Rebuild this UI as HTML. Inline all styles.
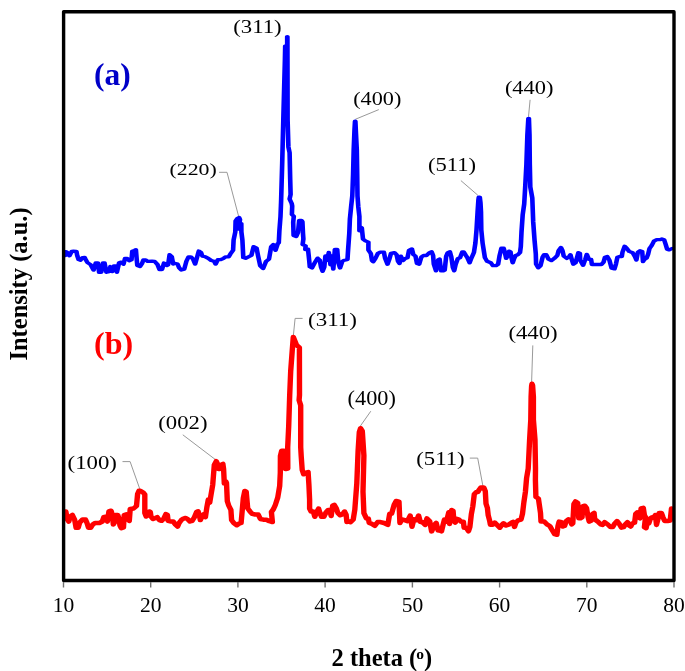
<!DOCTYPE html>
<html><head><meta charset="utf-8"><title>XRD</title>
<style>html,body{margin:0;padding:0;background:#fff;}svg{display:block;will-change:transform;}</style></head>
<body><svg width="685" height="671" viewBox="0 0 685 671">
<rect x="0" y="0" width="685" height="671" fill="#fff"/>

<polyline points="219.10,172.3 227.00,172.3 238.80,217.0" fill="none" stroke="#999" stroke-width="1.0"/>
<polyline points="378.80,109.6 355.30,119.3" fill="none" stroke="#999" stroke-width="1.0"/>
<polyline points="460.90,180.6 477.80,195.2" fill="none" stroke="#999" stroke-width="1.0"/>
<polyline points="530.10,99.8 528.50,116.7" fill="none" stroke="#999" stroke-width="1.0"/>
<polyline points="302.60,318.4 295.10,318.4 293.10,338.1" fill="none" stroke="#999" stroke-width="1.0"/>
<polyline points="532.80,345.4 531.60,382.3" fill="none" stroke="#999" stroke-width="1.0"/>
<polyline points="370.80,411.2 360.00,426.5" fill="none" stroke="#999" stroke-width="1.0"/>
<polyline points="469.80,458.1 477.70,458.1 482.90,486.0" fill="none" stroke="#999" stroke-width="1.0"/>
<polyline points="182.80,434.8 215.70,459.8" fill="none" stroke="#999" stroke-width="1.0"/>
<polyline points="122.50,461.6 130.10,461.6 140.00,489.6" fill="none" stroke="#999" stroke-width="1.0"/>
<polyline transform="scale(1.4,1)" points="46.57,255.5 47.00,251.6 48.21,252.5 49.57,255.8 51.29,251.4 52.50,251.2 54.57,251.3 55.14,255.5 56.14,259.6 57.50,260.3 58.93,257.6 60.43,257.4 61.43,260.2 62.50,262.6 64.71,264.6 66.86,270.1 68.43,262.8 70.00,262.8 70.79,272.3 72.29,272.3 73.64,262.8 74.64,262.8 76.00,272.3 77.79,271.6 78.86,266.5 80.21,271.6 81.43,265.8 82.50,265.8 83.50,272.3 85.07,262.8 86.64,262.1 88.21,264.3 89.29,258.5 90.86,258.5 92.36,260.7 93.93,259.9 94.50,251.2 96.07,250.4 97.07,249.7 97.57,258.0 98.07,265.5 100.00,266.5 101.43,263.5 102.43,260.0 104.07,260.0 105.43,261.4 108.57,261.1 110.43,261.4 112.50,264.5 113.93,269.5 115.71,269.5 117.14,263.0 119.07,265.6 120.07,264.9 121.14,254.6 122.71,256.8 123.71,264.1 125.29,263.4 126.86,264.1 127.93,267.8 129.50,270.0 131.57,269.2 133.14,261.2 134.71,256.8 136.29,256.8 137.86,259.0 139.36,264.1 140.43,259.0 142.00,251.0 143.57,252.4 144.57,256.1 146.71,256.8 148.79,258.3 150.86,260.5 152.93,261.2 154.00,264.1 155.57,259.7 157.64,259.7 159.71,258.3 161.29,256.8 163.36,256.8 164.93,253.2 166.50,250.3 166.86,240.0 168.07,232.0 168.29,221.0 169.50,218.5 170.79,217.5 171.43,219.5 170.43,229.0 171.00,229.0 172.36,223.5 172.43,232.0 173.14,240.0 173.79,257.6 175.36,258.3 177.43,256.8 179.57,255.4 181.14,246.7 183.29,248.2 184.29,255.5 185.86,265.7 187.93,268.6 190.07,261.3 192.14,259.1 193.71,246.7 195.29,244.5 196.79,250.4 198.36,243.8 199.14,242.7 199.57,230.8 200.36,216.5 200.79,201.0 201.57,163.3 202.36,120.0 203.50,60.0 203.71,46.0 205.14,45.5 205.14,36.6 205.29,36.6 205.43,120.0 206.00,146.9 206.86,152.8 207.29,179.7 207.57,194.6 206.86,199.1 208.36,203.6 208.71,206.0 208.50,214.5 209.86,216.2 209.43,222.3 209.71,235.5 211.57,236.5 212.86,232.4 213.71,220.3 215.29,220.3 216.00,221.5 216.43,233.5 216.71,239.1 216.14,244.5 218.29,245.8 218.07,249.5 220.00,249.2 220.86,260.3 221.29,266.8 222.86,268.0 224.86,262.6 226.86,258.1 228.43,260.3 229.29,267.0 230.43,271.3 231.64,267.0 232.43,256.0 233.64,260.3 234.86,252.5 236.07,264.8 236.86,256.0 238.07,269.2 239.21,249.4 240.86,249.4 241.64,262.6 242.86,268.0 244.43,261.5 245.36,260.5 246.93,260.0 248.21,259.4 248.64,249.9 249.50,233.2 249.93,218.8 250.79,206.9 251.64,196.0 252.21,174.0 252.64,150.0 253.21,130.0 253.57,121.2 253.86,121.2 254.14,130.0 254.86,150.0 255.14,174.0 255.36,196.0 255.93,206.9 256.71,216.5 256.71,230.8 257.57,227.2 258.43,227.8 259.29,239.1 261.00,240.9 263.14,242.1 263.14,249.9 264.86,253.4 265.71,260.6 266.57,261.8 268.21,258.2 269.93,253.4 271.64,252.2 274.21,252.2 275.07,258.2 276.79,264.2 278.07,259.4 279.29,253.4 281.71,252.6 283.29,254.7 284.29,261.3 285.36,263.5 286.36,256.2 287.93,260.6 289.50,258.4 291.07,257.7 292.14,250.4 294.21,248.9 295.29,254.7 296.79,256.2 297.86,263.5 299.43,264.2 301.00,256.9 302.57,255.5 304.64,255.5 306.71,252.6 308.29,251.8 309.36,255.5 309.86,264.2 311.43,270.8 313.00,259.9 314.00,259.1 315.07,270.8 316.64,270.8 317.64,270.1 318.71,256.2 319.79,252.6 321.36,251.8 322.36,256.9 323.43,267.2 324.43,270.8 325.50,264.2 327.07,258.4 328.64,257.7 330.21,251.8 331.21,251.8 332.79,255.5 333.86,257.7 335.43,262.8 336.43,259.1 338.50,252.6 339.57,243.0 340.36,230.0 341.14,212.0 341.71,200.0 342.00,197.2 342.71,197.2 343.21,203.0 343.57,212.0 343.79,230.0 344.71,243.1 345.29,248.2 346.36,257.7 347.93,261.3 350.57,262.8 352.14,265.7 354.21,265.7 355.79,264.2 356.86,255.5 358.14,248.2 359.79,248.2 360.50,251.8 361.57,258.4 362.57,255.5 363.64,251.1 364.64,251.8 365.21,256.9 366.21,262.8 367.29,258.4 368.36,255.5 369.86,254.7 371.43,252.6 372.00,246.7 372.50,232.1 373.36,214.6 374.43,204.0 375.14,187.0 376.00,164.6 376.71,134.8 377.29,121.0 377.43,118.3 377.79,118.3 378.21,134.8 378.43,164.6 378.79,187.0 380.21,198.0 380.86,221.9 381.86,240.9 382.71,254.0 382.93,264.2 384.50,267.9 386.07,265.7 387.64,256.9 388.64,254.7 390.21,254.7 391.79,259.1 393.86,260.6 395.93,258.4 398.07,255.5 399.07,250.4 400.64,247.4 401.71,250.4 402.71,256.2 404.86,258.4 406.36,256.9 407.43,254.7 408.50,259.9 409.50,264.2 411.07,262.8 412.14,257.7 413.14,252.6 414.21,253.3 414.43,260.1 416.50,265.3 418.07,259.4 419.14,254.3 420.71,259.4 422.21,259.4 422.79,264.5 425.36,264.5 429.57,264.5 431.07,262.3 432.14,257.2 433.71,256.5 435.29,260.1 436.86,268.2 438.93,268.9 440.00,263.8 441.00,257.2 442.57,256.5 444.14,256.5 444.64,252.1 446.21,246.3 447.79,248.5 449.36,251.4 451.93,252.8 453.50,256.5 454.57,260.1 455.64,252.1 457.14,250.7 458.71,251.4 459.29,261.6 460.29,259.4 461.86,258.0 462.93,254.3 463.93,248.5 465.50,245.5 467.07,241.2 469.14,239.7 471.29,239.7 472.79,239.0 474.36,239.7 475.43,244.1 476.50,249.2 478.00,249.9 480.00,248.5" fill="none" stroke="#0000ff" stroke-width="3.3" stroke-linejoin="round" stroke-linecap="round"/>
<polyline transform="scale(1.2,1)" points="54.83,511.4 56.08,519.4 57.33,521.6 58.50,516.5 60.33,515.0 62.17,519.5 63.42,527.8 65.17,527.8 66.42,522.5 68.83,519.5 71.25,519.5 72.50,523.0 73.75,527.8 75.58,527.8 77.33,524.5 79.17,523.0 82.83,523.0 85.25,521.5 86.50,517.2 88.33,516.5 89.50,521.6 90.75,511.4 92.58,510.7 93.83,515.8 94.42,524.5 95.58,522.3 96.25,515.0 98.08,515.0 99.25,518.7 99.92,525.3 101.08,528.2 102.92,527.4 103.50,515.0 105.33,514.3 106.58,519.4 107.75,520.9 108.50,509.0 111.25,508.5 113.75,506.0 114.67,494.0 115.83,490.8 116.92,490.8 119.33,492.5 120.67,494.5 120.67,513.0 121.83,516.5 123.33,515.0 124.42,511.5 125.25,512.0 125.83,516.5 127.50,519.0 129.58,518.0 131.00,517.2 132.83,520.1 134.67,520.8 136.50,518.6 138.25,514.2 139.50,515.0 140.08,520.8 142.58,521.5 144.33,521.5 146.17,524.5 148.00,526.6 149.25,523.0 151.08,520.1 152.92,518.6 154.75,517.9 156.50,519.3 158.33,521.5 160.17,520.8 162.00,517.2 163.83,512.0 165.08,511.3 166.25,515.7 166.92,520.1 168.67,515.7 169.92,514.2 171.17,517.2 172.33,507.7 173.58,499.6 174.75,502.6 176.00,493.8 177.25,485.0 177.83,476.3 178.58,465.0 180.25,461.2 181.50,464.6 182.08,469.0 183.33,469.0 184.50,464.6 185.75,463.9 186.33,469.0 186.92,483.6 188.17,481.4 188.75,482.8 189.42,501.1 190.58,505.5 192.42,509.9 193.00,520.1 194.83,523.0 197.33,525.2 199.08,523.7 200.92,523.0 201.58,514.2 202.75,498.2 204.00,490.9 205.17,491.6 206.42,508.4 208.25,511.3 210.17,513.8 212.67,514.5 215.17,514.5 217.00,519.0 219.50,519.7 222.00,519.7 224.50,521.2 227.00,522.0 226.17,512.0 227.92,509.0 229.42,505.0 231.42,497.7 233.08,485.9 233.58,472.8 233.67,456.0 234.75,450.8 236.75,450.8 237.92,469.0 239.83,468.5 239.75,447.2 240.58,426.3 241.42,395.0 242.25,371.0 243.50,351.0 244.42,337.0 247.08,345.0 249.50,347.5 249.58,395.0 249.25,400.2 250.58,405.4 250.58,447.2 251.00,456.0 251.83,469.8 253.08,474.3 254.92,472.8 256.75,472.0 257.42,484.7 258.00,499.6 258.00,508.6 259.25,511.5 261.08,511.5 262.33,516.8 263.58,513.0 265.50,508.6 266.67,513.0 267.92,516.8 269.83,516.8 271.67,512.3 273.50,510.0 274.75,510.0 276.00,516.0 277.25,505.6 278.50,504.8 280.33,508.6 281.58,513.0 283.50,515.3 285.33,514.5 287.17,511.5 288.42,514.5 289.08,522.0 290.92,521.2 292.17,522.1 294.33,519.6 295.67,509.8 297.33,483.6 298.42,450.8 299.42,432.0 300.50,428.2 301.92,431.0 303.25,455.7 302.50,491.8 303.25,513.1 305.33,518.4 306.92,518.4 307.67,523.0 310.00,523.9 312.33,525.8 314.67,522.1 317.00,522.1 320.08,523.0 323.17,524.9 324.75,513.7 326.33,513.7 328.58,504.4 330.17,501.0 332.50,501.6 333.25,523.0 334.83,519.3 337.17,520.2 339.50,521.1 341.83,515.6 343.33,526.7 344.92,519.3 347.25,520.2 348.83,515.6 350.33,522.1 351.92,522.1 354.25,524.9 355.75,518.4 358.08,521.1 359.67,531.4 362.00,524.9 363.50,523.0 365.08,530.5 366.67,530.5 367.92,531.3 369.08,525.5 370.33,519.6 371.50,521.8 372.75,518.2 374.00,512.3 374.58,524.0 376.42,510.1 377.58,510.9 378.25,521.1 379.42,522.6 380.67,518.9 382.50,519.6 384.33,521.8 386.17,521.8 386.75,527.7 388.58,527.7 390.42,531.3 391.58,526.9 392.83,513.8 394.00,506.5 395.25,494.1 397.08,491.9 398.33,491.9 398.92,490.4 400.75,487.5 403.17,487.5 404.42,491.2 405.00,503.6 406.17,508.0 406.83,515.3 408.00,520.4 408.67,524.7 410.50,524.7 412.25,522.6 414.08,524.7 416.58,527.7 418.33,524.7 419.58,523.3 421.42,525.5 423.83,524.7 426.25,522.6 427.50,521.8 428.75,526.9 429.92,522.6 431.75,520.4 434.17,519.6 435.42,513.8 436.58,502.1 437.83,492.0 438.83,478.0 440.17,468.6 441.33,440.0 442.33,419.7 442.58,397.0 443.00,386.0 443.33,383.8 443.83,385.5 444.50,397.0 444.50,419.7 445.83,440.0 446.25,468.6 446.17,480.0 446.58,497.0 448.67,498.5 450.42,512.9 450.83,521.6 453.58,521.6 455.83,524.4 458.17,526.0 460.00,529.8 462.25,534.2 464.08,534.8 465.00,526.0 465.92,521.6 467.75,522.2 469.08,526.5 470.50,526.0 471.83,521.1 473.67,519.4 475.00,520.0 476.42,524.4 477.33,523.3 478.25,504.1 479.58,501.4 481.42,503.0 482.33,518.3 483.75,518.3 485.08,517.2 485.50,506.3 487.33,505.7 488.75,507.9 490.08,517.2 491.00,521.6 492.83,520.5 493.75,514.0 495.08,512.9 495.58,518.9 496.92,520.5 498.75,522.2 500.58,524.4 502.00,524.9 503.83,522.2 506.42,524.4 508.75,527.1 510.58,527.1 512.42,523.3 514.17,521.1 516.00,523.8 517.83,527.6 519.67,527.1 521.08,524.4 522.92,522.2 524.25,525.5 525.58,526.5 527.00,523.3 528.83,522.7 529.75,514.0 531.08,512.3 532.00,517.2 533.33,518.3 534.25,508.5 536.08,507.9 537.00,515.0 537.92,517.2 537.00,527.1 538.42,528.2 539.33,522.7 540.67,523.3 542.08,518.3 543.42,517.2 544.75,517.8 546.17,515.0 547.08,524.9 548.42,518.3 549.33,512.9 551.17,512.9 552.50,517.2 553.92,521.1 556.17,521.1 558.50,520.5 559.58,508.5" fill="none" stroke="#ff0000" stroke-width="4.5" stroke-linejoin="round" stroke-linecap="round"/>
<rect x="63.6" y="11.8" width="610.4" height="568.7" fill="none" stroke="#000" stroke-width="3.4" stroke-linejoin="round"/>
<line x1="63.5" y1="582" x2="63.5" y2="587.5" stroke="#707070" stroke-width="1.4"/>
<text x="63.5" y="611.6" font-family="Liberation Serif, serif" font-size="21.5" text-anchor="middle" fill="#000">10</text>
<line x1="150.7" y1="582" x2="150.7" y2="587.5" stroke="#707070" stroke-width="1.4"/>
<text x="150.7" y="611.6" font-family="Liberation Serif, serif" font-size="21.5" text-anchor="middle" fill="#000">20</text>
<line x1="237.9" y1="582" x2="237.9" y2="587.5" stroke="#707070" stroke-width="1.4"/>
<text x="237.9" y="611.6" font-family="Liberation Serif, serif" font-size="21.5" text-anchor="middle" fill="#000">30</text>
<line x1="325.1" y1="582" x2="325.1" y2="587.5" stroke="#707070" stroke-width="1.4"/>
<text x="325.1" y="611.6" font-family="Liberation Serif, serif" font-size="21.5" text-anchor="middle" fill="#000">40</text>
<line x1="412.4" y1="582" x2="412.4" y2="587.5" stroke="#707070" stroke-width="1.4"/>
<text x="412.4" y="611.6" font-family="Liberation Serif, serif" font-size="21.5" text-anchor="middle" fill="#000">50</text>
<line x1="499.6" y1="582" x2="499.6" y2="587.5" stroke="#707070" stroke-width="1.4"/>
<text x="499.6" y="611.6" font-family="Liberation Serif, serif" font-size="21.5" text-anchor="middle" fill="#000">60</text>
<line x1="586.8" y1="582" x2="586.8" y2="587.5" stroke="#707070" stroke-width="1.4"/>
<text x="586.8" y="611.6" font-family="Liberation Serif, serif" font-size="21.5" text-anchor="middle" fill="#000">70</text>
<line x1="674.0" y1="582" x2="674.0" y2="587.5" stroke="#707070" stroke-width="1.4"/>
<text x="674.0" y="611.6" font-family="Liberation Serif, serif" font-size="21.5" text-anchor="middle" fill="#000">80</text>
<text transform="translate(233.19,32.80) scale(1.163,1)" font-family="Liberation Serif, serif" font-size="19.6" fill="#000">(311)</text>
<text transform="translate(169.43,175.00) scale(1.367,1)" font-family="Liberation Serif, serif" font-size="16.0" fill="#000">(220)</text>
<text transform="translate(353.21,104.50) scale(1.151,1)" font-family="Liberation Serif, serif" font-size="19.3" fill="#000">(400)</text>
<text transform="translate(427.90,171.30) scale(1.222,1)" font-family="Liberation Serif, serif" font-size="18.5" fill="#000">(511)</text>
<text transform="translate(504.90,93.90) scale(1.207,1)" font-family="Liberation Serif, serif" font-size="18.6" fill="#000">(440)</text>
<text transform="translate(307.98,325.60) scale(1.245,1)" font-family="Liberation Serif, serif" font-size="18.5" fill="#000">(311)</text>
<text transform="translate(508.39,339.30) scale(1.166,1)" font-family="Liberation Serif, serif" font-size="19.5" fill="#000">(440)</text>
<text transform="translate(347.61,405.00) scale(1.113,1)" font-family="Liberation Serif, serif" font-size="20.0" fill="#000">(400)</text>
<text transform="translate(416.29,465.00) scale(1.203,1)" font-family="Liberation Serif, serif" font-size="18.9" fill="#000">(511)</text>
<text transform="translate(158.29,428.90) scale(1.197,1)" font-family="Liberation Serif, serif" font-size="19.0" fill="#000">(002)</text>
<text transform="translate(67.59,468.50) scale(1.181,1)" font-family="Liberation Serif, serif" font-size="19.3" fill="#000">(100)</text>
<text transform="translate(94.0,84.8) scale(1.01,1)" font-family="Liberation Serif, serif" font-weight="bold" font-size="31.2" fill="#0000c8">(a)</text>
<text transform="translate(94.0,353.6) scale(1.05,1)" font-family="Liberation Serif, serif" font-weight="bold" font-size="30.5" fill="#ff0000">(b)</text>
<text transform="translate(26.8,284) rotate(-90)" text-anchor="middle" font-family="Liberation Serif, serif" font-weight="bold" font-size="24.5" fill="#000">Intensity (a.u.)</text>
<text x="331.5" y="665.5" font-family="Liberation Serif, serif" font-weight="bold" font-size="24.5" fill="#000">2 theta (<tspan font-size="15.5" dy="-6.6" dx="-0.9">o</tspan><tspan dy="6.6" dx="-0.1">)</tspan></text>
</svg></body></html>
